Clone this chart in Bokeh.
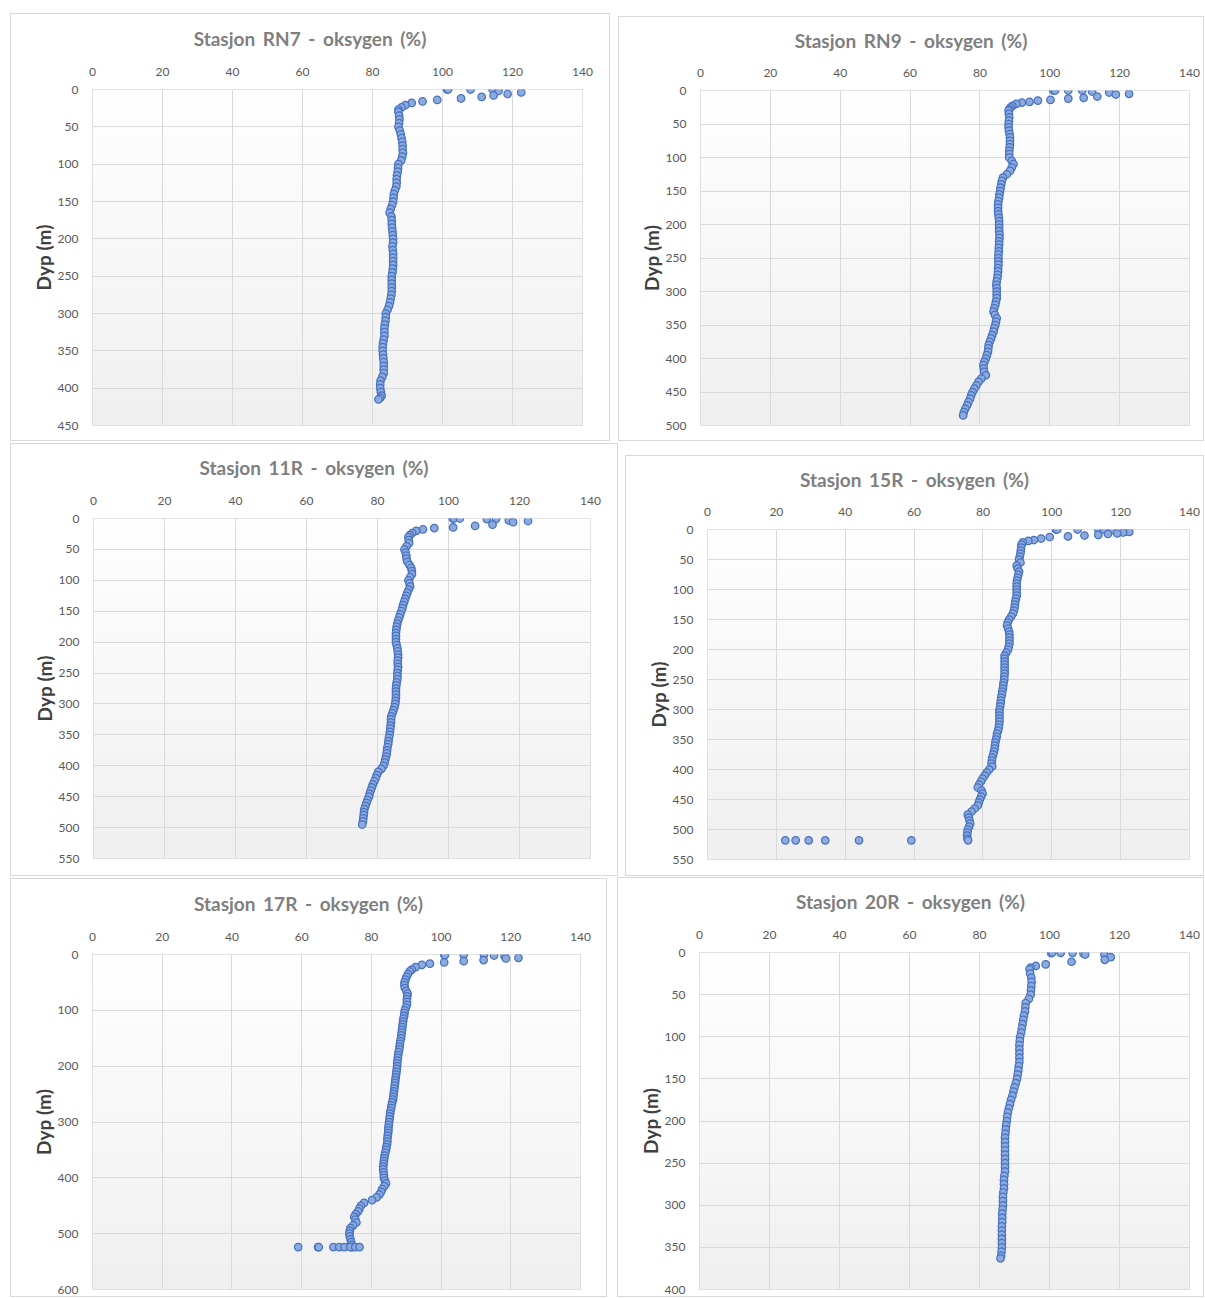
import numpy as np
from bokeh.plotting import figure
from bokeh.layouts import column, row
from bokeh.models import Range1d, FixedTicker, Div
from bokeh.embed import file_html
from bokeh.resources import INLINE

# ---------------- data ----------------
x_ticks = [0, 20, 40, 60, 80, 100, 120, 140]

rn7_depth = [0, 0, 0, 0, 2, 4, 6, 8, 10, 12, 14, 16, 18, 21, 24, 27,
             30, 35, 40, 45, 50, 55, 60, 65, 70, 75, 80, 85, 90, 95, 100, 105, 110, 115, 120, 125,
             130, 135, 140, 145, 150, 155, 160, 165, 170, 175, 180, 185, 190, 195, 200, 205, 210,
             215, 220, 225, 230, 235, 240, 245, 250, 255, 260, 265, 270, 275, 280, 285, 290, 295,
             300, 305, 310, 315, 320, 325, 330, 335, 340, 345, 350, 355, 360, 365, 370, 375, 380,
             385, 390, 395, 400, 405, 410, 413, 415]
rn7_oxygen = [101.3, 101.6, 108.0, 114.3, 116.0, 122.5, 118.6, 114.6, 111.2, 105.3, 98.5, 94.3, 91.2, 89.4, 88.3, 87.4,
              87.4, 87.6, 87.7, 87.6, 87.4, 87.8, 88.1, 88.3, 88.5, 88.6, 88.6, 88.7, 88.5, 88.2, 87.4, 87.3, 87.2, 87.0, 86.9, 86.9,
              86.8, 86.4, 86.1, 86.0, 85.9, 85.6, 85.2, 84.9, 85.4, 85.5, 85.5, 85.6, 85.7, 85.8, 85.9, 85.9, 85.7,
              85.8, 85.9, 85.9, 85.9, 85.9, 85.8, 85.7, 85.5, 85.5, 85.5, 85.5, 85.5, 85.4, 85.2, 85.0, 84.7, 84.3,
              83.8, 83.8, 83.7, 83.5, 83.4, 83.4, 83.4, 83.2, 83.0, 82.9, 82.9, 83.0, 83.1, 83.2, 83.2, 83.2, 83.2,
              82.8, 82.3, 82.2, 82.2, 82.4, 82.6, 82.2, 81.7]
rn7_y_ticks = [0, 50, 100, 150, 200, 250, 300, 350, 400, 450]

rn9_depth = [0, 0, 0, 0, 1.5, 3, 5, 6, 9, 11, 12, 14, 15, 17, 18, 20, 23, 25, 28,
             30, 35, 40, 45, 50, 55, 60, 65, 70, 75, 80, 85, 90, 95, 100, 105, 110, 115, 120, 125,
             130, 135, 140, 145, 150, 155, 160, 165, 170, 175, 180, 185, 190, 195, 200, 205, 210,
             215, 220, 225, 230, 235, 240, 245, 250, 255, 260, 265, 270, 275, 280, 285, 290, 295,
             300, 305, 310, 315, 320, 325, 330, 335, 340, 345, 350, 355, 360, 365, 370, 375, 380,
             385, 390, 395, 400, 405, 410, 415, 420, 425, 430, 435, 440, 445, 450, 455, 460, 465,
             470, 475, 480, 485]
rn9_oxygen = [101.0, 101.5, 105.3, 109.3, 112.1, 117.0, 122.7, 118.9, 113.6, 109.7, 105.3, 100.2, 96.6, 94.2, 92.0, 90.4, 89.3, 88.8, 88.4,
              88.2, 88.3, 88.4, 88.3, 88.2, 88.2, 88.3, 88.5, 88.6, 88.6, 88.6, 88.5, 88.4, 88.4, 88.4, 89.1, 89.6, 89.1, 88.6, 87.7,
              86.6, 86.3, 86.1, 85.9, 85.8, 85.6, 85.5, 85.3, 85.2, 85.2, 85.2, 85.3, 85.4, 85.5, 85.5, 85.5, 85.5,
              85.6, 85.6, 85.5, 85.5, 85.4, 85.4, 85.3, 85.3, 85.3, 85.3, 85.2, 85.2, 85.1, 85.0, 84.8, 84.7, 84.8,
              84.8, 84.8, 84.8, 84.6, 84.4, 84.1, 83.9, 84.3, 84.8, 84.6, 84.4, 84.1, 83.9, 83.5, 83.2, 82.8, 82.5,
              82.4, 82.3, 82.0, 81.7, 81.3, 81.0, 81.1, 81.2, 81.7, 80.4, 79.6, 79.0, 78.4, 77.9, 77.5, 77.2, 76.7,
              76.3, 75.8, 75.4, 75.2]
rn9_y_ticks = [0, 50, 100, 150, 200, 250, 300, 350, 400, 450, 500]

s11r_depth = [0, 0, 0, 0.5, 1, 3, 4, 6, 10, 12, 14.5, 15.5, 17.5, 20, 23.5, 27,
              30, 35, 40, 45, 50, 55, 60, 65, 70, 75, 80, 85, 90, 95, 100, 105, 110, 115, 120, 125,
              130, 135, 140, 145, 150, 155, 160, 165, 170, 175, 180, 185, 190, 195, 200, 205, 210,
              215, 220, 225, 230, 235, 240, 245, 250, 255, 260, 265, 270, 275, 280, 285, 290, 295,
              300, 305, 310, 315, 320, 325, 330, 335, 340, 345, 350, 355, 360, 365, 370, 375, 380,
              385, 390, 395, 400, 405, 410, 415, 420, 425, 430, 435, 440, 445, 450, 455, 460, 465,
              470, 475, 480, 485, 490, 495]
s11r_oxygen = [101.2, 101.5, 103.2, 113.4, 110.8, 117.0, 122.4, 118.2, 112.4, 107.5, 101.3, 96.0, 92.8, 90.9, 89.8, 89.1,
               88.7, 88.8, 88.9, 88.2, 87.6, 87.9, 88.1, 88.2, 88.4, 89.0, 89.5, 89.7, 89.7, 89.2, 88.7, 89.0, 89.2, 88.8, 88.4, 88.1,
               87.8, 87.5, 87.2, 87.0, 86.7, 86.4, 86.1, 85.8, 85.6, 85.4, 85.3, 85.2, 85.2, 85.2, 85.2, 85.4, 85.6,
               85.7, 85.8, 85.8, 85.7, 85.7, 85.8, 85.7, 85.6, 85.6, 85.6, 85.4, 85.3, 85.2, 85.2, 85.2, 85.2, 85.1,
               85.0, 84.8, 84.5, 84.2, 83.9, 83.8, 83.8, 83.7, 83.6, 83.5, 83.4, 83.2, 83.1, 83.0, 82.8, 82.7, 82.6,
               82.4, 82.2, 82.0, 81.7, 81.1, 80.2, 79.8, 79.5, 79.1, 78.7, 78.4, 78.1, 77.8, 77.6, 77.2, 76.9, 76.6,
               76.3, 76.2, 76.1, 76.0, 75.9, 75.7]
s11r_y_ticks = [0, 50, 100, 150, 200, 250, 300, 350, 400, 450, 500, 550]

s15r_depth = [0, 0, 0, 0, 0, 1, 3, 4, 5, 6.5, 7.5, 9, 10, 11.5, 12.5, 15, 17.5, 19, 21.5, 25,
              30, 35, 40, 45, 50, 55, 60, 65, 70, 75, 80, 85, 90, 95, 100, 105, 110, 115, 120, 125,
              130, 135, 140, 145, 150, 155, 160, 165, 170, 175, 180, 185, 190, 195, 200, 205, 210,
              215, 220, 225, 230, 235, 240, 245, 250, 255, 260, 265, 270, 275, 280, 285, 290, 295,
              300, 305, 310, 315, 320, 325, 330, 335, 340, 345, 350, 355, 360, 365, 370, 375, 380,
              385, 390, 395, 400, 405, 410, 415, 420, 425, 430, 435, 440, 445, 450, 455, 460, 465,
              470, 475, 480, 485, 490, 495, 500, 505, 510, 515, 518,
              518, 518, 518, 518, 518, 518]
s15r_oxygen = [101.2, 101.6, 107.5, 113.5, 115.1, 117.3, 121.7, 122.5, 120.7, 119.0, 116.3, 113.5, 109.5, 104.7, 99.4, 96.9, 94.8, 93.2, 91.6, 91.2,
               91.1, 91.0, 90.9, 90.7, 90.5, 90.9, 89.8, 90.1, 90.5, 90.3, 90.1, 89.9, 89.8, 89.8, 89.8, 89.8, 89.8, 89.6, 89.4, 89.3,
               89.2, 89.0, 88.7, 88.2, 87.6, 87.2, 87.0, 87.3, 87.6, 87.7, 87.7, 87.7, 87.7, 87.5, 87.3, 86.8, 86.3,
               86.3, 86.3, 86.3, 86.3, 86.3, 86.3, 86.2, 86.2, 86.0, 85.9, 85.8, 85.6, 85.5, 85.3, 85.2, 85.1, 85.0,
               84.8, 84.8, 84.8, 84.8, 84.8, 84.7, 84.6, 84.4, 84.1, 84.0, 83.8, 83.6, 83.5, 83.4, 83.2, 83.0, 82.7,
               82.6, 82.5, 82.7, 81.8, 81.1, 80.5, 79.9, 79.4, 78.9, 78.5, 79.6, 79.9, 79.5, 79.1, 78.8, 78.5, 77.6,
               76.7, 75.6, 75.9, 76.1, 76.3, 76.0, 75.6, 75.5, 75.4, 75.5, 75.7,
               22.6, 25.6, 29.4, 34.2, 44.0, 59.2]
s15r_y_ticks = [0, 50, 100, 150, 200, 250, 300, 350, 400, 450, 500, 550]

s17r_depth = [0, 1, 0.6, 0.6, 1.8, 3, 6, 7, 10, 12, 14, 16.5, 18.5, 22.5, 27,
              30, 35, 40, 45, 50, 55, 60, 65, 70, 75, 80, 85, 90, 95, 100, 105, 110, 115, 120, 125,
              130, 135, 140, 145, 150, 155, 160, 165, 170, 175, 180, 185, 190, 195, 200, 205, 210,
              215, 220, 225, 230, 235, 240, 245, 250, 255, 260, 265, 270, 275, 280, 285, 290, 295,
              300, 305, 310, 315, 320, 325, 330, 335, 340, 345, 350, 355, 360, 365, 370, 375, 380,
              385, 390, 395, 400, 405, 410, 415, 420, 425, 430, 435, 440, 445, 450, 455, 460, 465,
              470, 475, 480, 485, 490, 495, 500, 505, 510, 515, 520, 524,
              524, 524, 524, 524, 524, 524, 524, 524, 524]
s17r_oxygen = [100.9, 101.1, 106.5, 112.3, 115.2, 118.2, 122.2, 118.6, 112.2, 106.5, 100.9, 96.8, 94.5, 92.7, 91.6,
               91.0, 90.5, 90.1, 89.8, 89.5, 89.5, 89.6, 90.0, 90.4, 90.3, 90.2, 90.2, 90.2, 89.9, 89.6, 89.5, 89.4, 89.2, 89.1, 89.0,
               88.9, 88.8, 88.7, 88.6, 88.5, 88.3, 88.2, 88.1, 88.0, 87.8, 87.7, 87.6, 87.5, 87.4, 87.4, 87.3, 87.2,
               87.1, 87.0, 86.9, 86.8, 86.7, 86.6, 86.5, 86.4, 86.3, 86.2, 86.0, 85.8, 85.7, 85.5, 85.4, 85.3, 85.2,
               85.1, 85.0, 84.9, 84.9, 84.8, 84.7, 84.6, 84.6, 84.5, 84.3, 84.2, 84.0, 83.8, 83.7, 83.6, 83.5, 83.4,
               83.4, 83.5, 83.6, 83.6, 83.9, 84.2, 83.7, 83.1, 82.8, 82.3, 81.5, 80.2, 77.9, 77.0, 76.6, 76.2, 75.5,
               75.1, 75.4, 75.7, 74.8, 74.0, 73.8, 73.7, 73.8, 74.0, 74.2, 74.3, 74.5,
               59.0, 64.7, 64.9, 69.1, 70.8, 72.3, 74.0, 75.4, 76.6]
s17r_y_ticks = [0, 100, 200, 300, 400, 500, 600]

s20r_depth = [0.8, 0, 0.4, 0.4, 1.2, 2.4, 2.8, 5.5, 8.7, 11, 14, 16, 18,
              20, 25, 30, 35, 40, 45, 50, 55, 60, 65, 70, 75, 80, 85, 90, 95, 100, 105, 110, 115, 120, 125,
              130, 135, 140, 145, 150, 155, 160, 165, 170, 175, 180, 185, 190, 195, 200, 205, 210,
              215, 220, 225, 230, 235, 240, 245, 250, 255, 260, 265, 270, 275, 280, 285, 290, 295,
              300, 305, 310, 315, 320, 325, 330, 335, 340, 345, 350, 355, 360, 363]
s20r_oxygen = [100.5, 100.8, 103.2, 106.6, 109.7, 110.2, 115.7, 117.5, 115.8, 106.3, 98.9, 96.1, 94.6,
               94.3, 94.5, 94.8, 94.9, 94.8, 94.7, 94.6, 94.1, 93.2, 93.1, 93.0, 92.7, 92.5, 92.3, 92.1, 91.9, 91.6, 91.5, 91.4, 91.4, 91.4, 91.4,
               91.4, 91.2, 91.1, 90.9, 90.7, 90.4, 90.0, 89.7, 89.4, 89.0, 88.7, 88.4, 88.1, 87.9, 87.8, 87.6, 87.5,
               87.4, 87.3, 87.3, 87.3, 87.3, 87.3, 87.3, 87.3, 87.3, 87.3, 87.1, 87.0, 87.0, 87.0, 86.8, 86.7, 86.7,
               86.7, 86.6, 86.5, 86.5, 86.5, 86.4, 86.4, 86.4, 86.4, 86.4, 86.4, 86.3, 86.2, 86.0]
s20r_y_ticks = [0, 50, 100, 150, 200, 250, 300, 350, 400]

titles = ["Stasjon RN7 - oksygen (%)", "Stasjon RN9 - oksygen (%)", "Stasjon 11R - oksygen (%)",
          "Stasjon 15R - oksygen (%)", "Stasjon 17R - oksygen (%)", "Stasjon 20R - oksygen (%)"]
y_label = "Dyp (m)"

# ---------------- styling / layout ----------------
FONT = "Lato"
GRID = "#d9d9d9"
TICK_COLOR = "#595959"
TITLE_COLOR = "#7f7f7f"
LABEL_COLOR = "#3f3f3f"
MARK_FILL = "#8eaadb"
MARK_LINE = "#4472c4"


def gradient_image():
    n = 64
    g = np.linspace(255, 240, n).astype(np.uint32)
    img = np.empty((n, 1), dtype=np.uint32)
    img[:, 0] = (255 << 24) | (g << 16) | (g << 8) | g
    return img


def make_panel(title, depth, oxygen, y_ticks, width, height, left, right, top, bottom, margin, title_y):
    y_max = y_ticks[-1]
    head_h = 2 * title_y
    head = Div(text=title, width=width, height=head_h, margin=0,
               styles={"font-family": FONT, "font-size": "19px", "font-weight": "bold",
                       "color": TITLE_COLOR, "text-align": "center", "word-spacing": "3px",
                       "line-height": f"{head_h}px", "background-color": "white"})
    p = figure(width=width, height=height - head_h,
               x_range=Range1d(x_ticks[0], x_ticks[-1]), y_range=Range1d(y_max, 0),
               x_axis_location="above", output_backend="svg", toolbar_location=None,
               min_border_left=left, min_border_right=right,
               min_border_top=top - head_h, min_border_bottom=bottom,
               margin=0, background_fill_color="white", border_fill_color="white")
    p.outline_line_color = GRID
    p.outline_line_width = 1

    p.image_rgba(image=[gradient_image()], x=x_ticks[0], y=0, dw=x_ticks[-1] - x_ticks[0], dh=y_max,
                 level="image")

    for ax in (p.xaxis[0], p.yaxis[0]):
        ax.axis_line_color = None
        ax.major_tick_line_color = None
        ax.minor_tick_line_color = None
        ax.major_label_text_font = FONT
        ax.major_label_text_font_size = "12px"
        ax.major_label_text_color = TICK_COLOR
    p.xaxis.major_label_standoff = 8
    p.yaxis.major_label_standoff = 8
    p.xaxis.ticker = FixedTicker(ticks=x_ticks)
    p.yaxis.ticker = FixedTicker(ticks=y_ticks)
    p.yaxis.axis_label = y_label
    p.yaxis.axis_label_text_font = FONT
    p.yaxis.axis_label_text_font_size = "19px"
    p.yaxis.axis_label_text_font_style = "bold"
    p.yaxis.axis_label_text_color = LABEL_COLOR
    p.yaxis.axis_label_standoff = 0

    p.xgrid.ticker = FixedTicker(ticks=x_ticks)
    p.ygrid.ticker = FixedTicker(ticks=y_ticks)
    p.grid.grid_line_color = GRID
    p.grid.grid_line_width = 1

    p.scatter(oxygen, depth, marker="circle", size=7.5, fill_color=MARK_FILL,
              line_color=MARK_LINE, line_width=1.25)
    return column(head, p, margin=margin, spacing=0,
                  styles={"border": "1px solid #d9d9d9", "background-color": "white"})


# width, height, min borders (l, r, t, b), margin (t, r, b, l), title centre y
p1 = make_panel(titles[0], rn7_depth, rn7_oxygen, rn7_y_ticks, 598, 426, 81, 27, 74, 15, (13, 0, 0, 10), 25)
p2 = make_panel(titles[1], rn9_depth, rn9_oxygen, rn9_y_ticks, 584, 423, 81, 14, 72, 15, (16, 0, 0, 8), 24)
p3 = make_panel(titles[2], s11r_depth, s11r_oxygen, s11r_y_ticks, 606, 431, 82, 27, 74, 17, (2, 0, 0, 10), 24)
p4 = make_panel(titles[3], s15r_depth, s15r_oxygen, s15r_y_ticks, 577, 419, 81, 14, 72, 16, (14, 0, 0, 7), 24)
p5 = make_panel(titles[4], s17r_depth, s17r_oxygen, s17r_y_ticks, 595, 417, 81, 26, 74, 7, (2, 0, 0, 10), 25)
p6 = make_panel(titles[5], s20r_depth, s20r_oxygen, s20r_y_ticks, 585, 418, 81, 14, 74, 7, (1, 0, 0, 10), 24)

layout = column(row(p1, p2), row(p3, p4), row(p5, p6))
open("out.html", "w").write(file_html(layout, INLINE))
